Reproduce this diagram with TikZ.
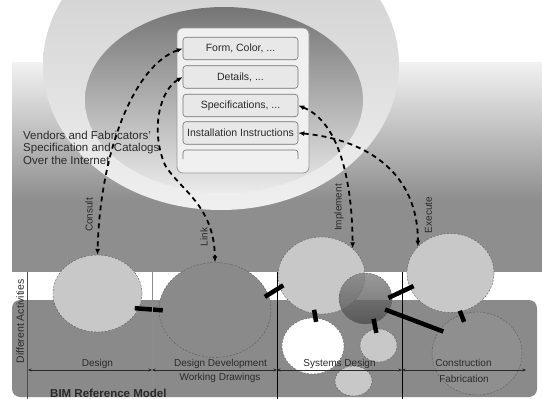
\documentclass[tikz,border=0pt]{standalone}
\usepackage{fontspec}
\setmainfont{Liberation Sans}
\usetikzlibrary{arrows.meta,shapes.geometric}
\definecolor{bandgray}{HTML}{8E8E8E}
\definecolor{lowgray}{HTML}{8A8A8A}
\definecolor{discgray}{HTML}{C8C8C8}
\definecolor{inkgray}{HTML}{2A2A2A}

\begin{document}
\begin{tikzpicture}[x=1pt,y=-1pt,
  font=\fontsize{10}{12}\selectfont,
  disc/.style={ellipse,draw=black!65,line width=0.4pt,dash pattern=on 2pt off 1.5pt,inner sep=0pt},
  rowbox/.style={draw=black!55,line width=0.6pt,rounded corners=3pt,fill=black!9,minimum width=115pt,minimum height=22.5pt,inner sep=0pt,text=inkgray,font=\fontsize{10.5}{12}\selectfont},
  flow/.style={line width=1.8pt,dash pattern=on 5pt off 4pt,{Latex[length=6pt,width=5pt]}-{Latex[length=6pt,width=5pt]}},
  tie/.style={line width=4.5pt,shorten <=-4pt,shorten >=-4pt},
  span/.style={line width=0.7pt,draw=inkgray,{Stealth[length=3.5pt,width=3pt]}-{Stealth[length=3.5pt,width=3pt]}},
  lbl/.style={text=inkgray,inner sep=0pt}]
\useasboundingbox (0,0) rectangle (542,399);
\clip (0,0) rectangle (542,399);

% backdrop bands
\shade[top color=black!5,bottom color=bandgray] (12,62) rectangle (542,200);
\fill[bandgray] (12,199.5) rectangle (542,272);
\fill[lowgray,rounded corners=8pt] (12,300) rectangle (537,397);

% catalog cloud
\shade[top color=black!20,bottom color=black!6] (221,65) ellipse [x radius=178,y radius=145];
\begin{scope}
\clip (221,65) ellipse [x radius=178,y radius=145];
\shade[top color=black!54,middle color=black!40,bottom color=black!8] (224,100) ellipse [x radius=139,y radius=93];
\end{scope}

\node[draw=black!40,line width=0.8pt,fill=black!6,rounded corners=6pt,minimum width=132pt,minimum height=145pt] (panel) at (243,100.5) {};
\node[rowbox] (form) at (240.5,48.5) {Form, Color, ...};
\node[rowbox] (details) at (240.5,77) {Details, ...};
\node[rowbox] (specs) at (240.5,105.5) {Specifications, ...};
\node[rowbox] (install) at (240.5,133) {Installation Instructions};
\draw[black!55,line width=0.6pt,rounded corners=3pt] (183,159) |- (298,150) -- (298,159);

\node[lbl,anchor=north west,align=left,font=\fontsize{11.5}{12.5}\selectfont] (vendors) at (23,130.5) {Vendors and Fabricators'\\Specification and Catalogs\\Over the Internet};

% activity discs
\node[disc,fill=discgray,minimum width=89pt,minimum height=77pt] (design) at (97.5,293.5) {};
\node[disc,fill=black!46,minimum width=112pt,minimum height=95pt] (devel) at (215,310) {};
\node[disc,fill=discgray,minimum width=87pt,minimum height=77pt] (systop) at (321.5,275.5) {};
\node[disc,fill=white,minimum width=62pt,minimum height=56pt] (sysplain) at (313,346) {};
\node[disc,fill=discgray,minimum width=37pt,minimum height=33pt] (syssmall) at (378.5,345.5) {};
\node[disc,fill=discgray,minimum width=37pt,minimum height=30pt] (syslow) at (353.5,381) {};
\node[disc,fill=discgray,minimum width=87pt,minimum height=79pt] (consttop) at (450.5,273) {};
\node[disc,fill=black!44,minimum width=90pt,minimum height=83pt] (constlow) at (477,353.5) {};
\node[disc,top color=black!50,bottom color=black!70,fill opacity=0.8,minimum width=53pt,minimum height=51pt] (hub) at (365.5,298.5) {};

\draw[tie] (design.-20) -- (devel.180);
\draw[tie] (devel.16) -- (systop.196);
\draw[tie] (systop.260) -- (sysplain.85);
\draw[tie] (hub.290) -- (syssmall.100);
\draw[tie] (hub.5) -- (consttop.200);
\draw[tie] (hub.-28) -- (constlow.148);
\draw[tie,shorten <=-1pt,shorten >=-8pt] (consttop.-76) -- (constlow.112);

% phase dividers
\draw[black!70,line width=0.6pt] (27,272) -- (27,399);
\draw[black!45,line width=0.6pt] (152,272) -- (152,397);
\draw[black,line width=0.6pt] (277,272) -- (277,399);
\draw[black,line width=0.6pt] (402,272) -- (402,399);
\coordinate (s0) at (28,370);
\coordinate (s1) at (152,370);
\coordinate (s2) at (277,370);
\coordinate (s3) at (402,370);
\coordinate (s4) at (526,370);
\draw[span] (s0) -- (s1);
\draw[span] (s1) -- (s2);
\draw[span] (s2) -- (s3);
\draw[span] (s3) -- (s4);

\node[lbl,anchor=base] (designlbl) at (97.5,366) {Design};
\node[lbl,anchor=base] (devellbl) at (220.5,366) {Design Development};
\node[lbl,anchor=base] (drawlbl) at (220,380) {Working Drawings};
\node[lbl,anchor=base] (syslbl) at (339.5,366) {Systems Design};
\node[lbl,anchor=base] (constlbl) at (463.5,366) {Construction};
\node[lbl,anchor=base] (fablbl) at (464,382) {Fabrication};
\node[lbl,rotate=90,font=\fontsize{10.5}{12}\selectfont] (activities) at (20,321.5) {Different Activities};
\node[lbl,anchor=base west,font=\bfseries\fontsize{11.5}{12}\selectfont] (bim) at (50,397) {BIM Reference Model};

% catalog links
\draw[flow] (form.west) .. controls (135,65) and (100,150) .. (design.north);
\draw[flow] (details.west) .. controls (160,90) and (150,130) .. (165,165) .. controls (180,190) and (214,205) .. (devel.north);
\draw[flow] (specs.east) .. controls (335,120) and (352,170) .. (systop.41);
\draw[flow] (install.east) .. controls (370,140) and (418,175) .. (consttop.141);
\node[lbl,rotate=90] (consultlbl) at (89,215) {Consult};
\node[lbl,rotate=90] (linklbl) at (204,237) {Link};
\node[lbl,rotate=90] (implementlbl) at (339,207.5) {Implement};
\node[lbl,rotate=90] (executelbl) at (428.5,215) {Execute};
\end{tikzpicture}
\end{document}
